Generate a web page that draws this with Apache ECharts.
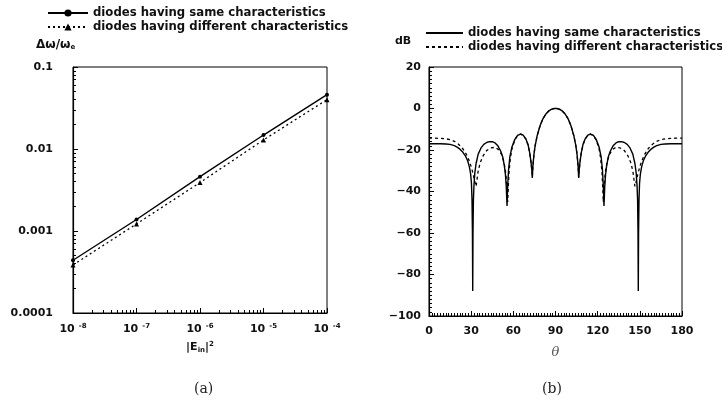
<!DOCTYPE html>
<html><head><meta charset="utf-8">
<script src="https://cdn.jsdelivr.net/npm/echarts@6/dist/echarts.min.js"></script>
<style>html,body{margin:0;padding:0;background:#fff}#c{width:722px;height:413px}</style>
</head><body><div id="c"></div>
<script>
// ---- Panel (a) data ----
const fieldA = [1e-8, 1e-7, 1e-6, 1e-5, 1e-4];
const sameA = [0.00044, 0.00138, 0.0046, 0.0148, 0.046];
const diffA = [0.000385, 0.00122, 0.0039, 0.0129, 0.040];
const yTicksA = {'-4':'0.0001','-3':'0.001','-2':'0.01','-1':'0.1'};
const xTickExpA = {'-8':'-8','-7':'-7','-6':'-6','-5':'-5','-4':'-4'};

// ---- Panel (b) data: [theta, dB] ----
const sameB = [[0,-17],[4,-17],[8,-17],[12,-17.1],[15,-17.3],[18,-17.9],[20,-18.6],[22,-19.6],[24,-21],[26,-23],[27.5,-25.2],[28.7,-28],[29.6,-31.5],[30.2,-36],[30.6,-44],[30.9,-60],[31.1,-88],[31.3,-60],[31.6,-44],[32,-37],[32.6,-31],[33.5,-26.5],[35,-22],[37,-19],[39,-17.3],[41,-16.4],[43,-16],[45,-16],[47,-16.6],[49,-18],[51,-20.5],[52.5,-23.5],[53.6,-27.5],[54.4,-32],[55,-38],[55.5,-47],[56,-37],[56.6,-29.5],[57.5,-23.5],[59,-18.5],[61,-15],[63,-13],[65,-12.3],[67,-12.8],[69,-14.8],[70.5,-17.5],[71.7,-21.5],[72.6,-26],[73.2,-30],[73.5,-33.5],[73.9,-28],[74.6,-22.5],[75.5,-18],[77,-13],[79,-8.3],[81,-5],[83,-2.8],[85,-1.3],[87,-0.4],[89,0],[90,0],
[91,0],[93,-0.4],[95,-1.3],[97,-2.8],[99,-5],[101,-8.3],[103,-13],[104.5,-18],[105.4,-22.5],[106.1,-28],[106.5,-33.5],[106.8,-30],[107.4,-26],[108.3,-21.5],[109.5,-17.5],[111,-14.8],[113,-12.8],[115,-12.3],[117,-13],[119,-15],[121,-18.5],[122.5,-23.5],[123.4,-29.5],[124,-37],[124.5,-47],[125,-38],[125.6,-32],[126.4,-27.5],[127.5,-23.5],[129,-20.5],[131,-18],[133,-16.6],[135,-16],[137,-16],[139,-16.4],[141,-17.3],[143,-19],[145,-22],[146.5,-26.5],[147.4,-31],[148,-37],[148.4,-44],[148.7,-60],[148.9,-88],[149.1,-60],[149.4,-44],[149.8,-36],[150.4,-31.5],[151.3,-28],[152.5,-25.2],[154,-23],[156,-21],[158,-19.6],[160,-18.6],[162,-17.9],[165,-17.3],[168,-17.1],[172,-17],[176,-17],[180,-17]];
const diffB = [[0,-14.3],[4,-14.3],[8,-14.4],[12,-14.6],[15,-15],[18,-15.8],[21,-17.2],[24,-19.3],[26.5,-22],[28.5,-25],[30,-28],[31.2,-31],[32.2,-34],[33,-36.5],[33.5,-37.5],[34,-35],[35,-30],[36.5,-26],[38.5,-22.8],[41,-20.3],[44,-19],[47,-18.7],[49.5,-19.8],[51.5,-22],[53,-25],[54.2,-29],[55,-34],[55.6,-40],[56,-45],[56.4,-38],[57,-30],[58,-23.5],[59,-19.5],[61,-15.2],[63,-13.1],[65,-12.4],[67,-12.9],[69,-14.9],[70.5,-17.6],[71.7,-21.6],[72.6,-26],[73.2,-30],[73.5,-33],[73.9,-28],[74.6,-22.5],[75.5,-18],[77,-13],[79,-8.3],[81,-5],[83,-2.8],[85,-1.3],[87,-0.4],[89,0],[90,0],
[91,0],[93,-0.4],[95,-1.3],[97,-2.8],[99,-5],[101,-8.3],[103,-13],[104.5,-18],[105.4,-22.5],[106.1,-28],[106.5,-33],[106.8,-30],[107.4,-26],[108.3,-21.6],[109.5,-17.6],[111,-14.9],[113,-12.9],[115,-12.4],[117,-13.1],[119,-15.2],[121,-19.5],[122,-23.5],[123,-30],[123.6,-38],[124,-45],[124.4,-40],[125,-34],[125.8,-29],[127,-25],[128.5,-22],[130.5,-19.8],[133,-18.7],[136,-19],[139,-20.3],[141.5,-22.8],[143.5,-26],[145,-30],[146,-35],[146.5,-37.5],[147,-36.5],[147.8,-34],[148.8,-31],[150,-28],[151.5,-25],[153.5,-22],[156,-19.3],[159,-17.2],[162,-15.8],[165,-15],[168,-14.6],[172,-14.4],[176,-14.3],[180,-14.3]];

const seriesNames = {
  aSame: 'diodes having same characteristics',
  aDiff: 'diodes having different characteristics',
  bSame: 'diodes having same characteristics',
  bDiff: 'diodes having different characteristics'
};

const F = 'DejaVu Sans';
const lab = {fontFamily: F, fontWeight: 'bold', fontSize: 11, color: '#111'};
const legText = Object.assign({}, lab, {fontSize: 11.7});

const chart = echarts.init(document.getElementById('c'), null, {renderer: 'canvas'});
chart.setOption({
  animation: false,
  backgroundColor: '#fff',
  title: [
    {text: '(a)', left: 189, top: 377, textStyle: {fontFamily: 'DejaVu Serif', fontWeight: 'normal', fontSize: 14, color: '#222'}},
    {text: '(b)', left: 537, top: 377, textStyle: {fontFamily: 'DejaVu Serif', fontWeight: 'normal', fontSize: 14, color: '#222'}}
  ],
  legend: [
    {data: ['aSame', 'aDiff'], left: 47, top: 7, padding: 0, orient: 'vertical', itemGap: 2, itemWidth: 40, itemHeight: 9,
     formatter: n => seriesNames[n], textStyle: legText},
    {data: ['bSame', 'bDiff'], left: 425, top: 27, padding: 0, orient: 'vertical', itemGap: 2, itemWidth: 37, itemHeight: 9,
     itemStyle: {opacity: 0}, formatter: n => seriesNames[n], textStyle: legText}
  ],
  grid: [
    {left: 73, top: 67, width: 254, height: 246, show: true, borderColor: '#000', borderWidth: 1},
    {left: 429, top: 67, width: 253, height: 249, show: true, borderColor: '#000', borderWidth: 1}
  ],
  xAxis: [
    {type: 'log', gridIndex: 0, min: 1e-8, max: 1e-4, logBase: 10,
     axisLine: {onZero: false, lineStyle: {color: '#000', width: 1.2}},
     axisTick: {inside: true, length: 5, lineStyle: {color: '#000'}},
     minorTick: {show: true, splitNumber: 9, length: 3, lineStyle: {color: '#000'}},
     splitLine: {show: false},
     axisLabel: {margin: 10, formatter: v => { const e = String(Math.round(Math.log10(v))); return '{b|10}{s|' + (xTickExpA[e] || e) + '}'; },
       rich: {b: Object.assign({}, lab), s: Object.assign({}, lab, {fontSize: 7, verticalAlign: 'top', padding: [0, 0, 6, 4]})}},
     name: '|E{s|in}|{p|2}', nameLocation: 'middle', nameGap: 28,
     nameTextStyle: Object.assign({}, lab, {rich: {s: Object.assign({}, lab, {fontSize: 7, padding: [6, 0, 0, 0]}), p: Object.assign({}, lab, {fontSize: 7, padding: [0, 0, 6, 0]})}})},
    {type: 'value', gridIndex: 1, min: 0, max: 180, interval: 30,
     axisLine: {onZero: false, lineStyle: {color: '#000', width: 1.2}},
     axisTick: {inside: true, length: 5, lineStyle: {color: '#000'}},
     minorTick: {show: true, splitNumber: 15, length: 3, lineStyle: {color: '#000'}},
     splitLine: {show: false},
     axisLabel: Object.assign({margin: 10}, lab),
     name: 'θ', nameLocation: 'middle', nameGap: 30,
     nameTextStyle: {fontFamily: 'DejaVu Serif', fontStyle: 'italic', fontSize: 13, color: '#555'}}
  ],
  yAxis: [
    {type: 'log', gridIndex: 0, min: 1e-4, max: 0.1, logBase: 10,
     axisLine: {onZero: false, lineStyle: {color: '#000', width: 1.2}},
     axisTick: {inside: true, length: 5, lineStyle: {color: '#000'}},
     minorTick: {show: true, splitNumber: 9, length: 3, lineStyle: {color: '#000'}},
     splitLine: {show: false},
     axisLabel: Object.assign({margin: 20, formatter: v => yTicksA[String(Math.round(Math.log10(v)))]}, lab),
     name: 'Δω/ω{s|e}', nameLocation: 'end', nameGap: 16,
     nameTextStyle: Object.assign({}, lab, {fontSize: 12, align: 'left', padding: [0, 0, 0, -37], rich: {s: Object.assign({}, lab, {fontSize: 7, padding: [6, 0, 0, 0]})}})},
    {type: 'value', gridIndex: 1, min: -100, max: 20, interval: 20,
     axisLine: {onZero: false, lineStyle: {color: '#000', width: 1.2}},
     axisTick: {inside: true, length: 5, lineStyle: {color: '#000'}},
     minorTick: {show: true, splitNumber: 10, length: 3, lineStyle: {color: '#000'}},
     splitLine: {show: false},
     axisLabel: Object.assign({margin: 8, formatter: v => (v < 0 ? '−' + (-v) : String(v))}, lab),
     name: 'dB', nameLocation: 'end', nameGap: 20,
     nameTextStyle: Object.assign({}, lab, {align: 'left', padding: [0, 0, 0, -34]})}
  ],
  series: [
    {name: 'aSame', type: 'line', xAxisIndex: 0, yAxisIndex: 0,
     data: fieldA.map((x, i) => [x, sameA[i]]), symbol: 'circle', symbolSize: 4,
     itemStyle: {color: '#000'}, lineStyle: {color: '#000', width: 1.4}},
    {name: 'aDiff', type: 'line', xAxisIndex: 0, yAxisIndex: 0,
     data: fieldA.map((x, i) => [x, diffA[i]]), symbol: 'triangle', symbolSize: 5,
     itemStyle: {color: '#000'}, lineStyle: {color: '#000', width: 1.3, type: [2, 3]}},
    {name: 'bSame', type: 'line', xAxisIndex: 1, yAxisIndex: 1, data: sameB, showSymbol: false, symbol: 'none',
     itemStyle: {color: '#000'}, lineStyle: {color: '#000', width: 1.4}},
    {name: 'bDiff', type: 'line', xAxisIndex: 1, yAxisIndex: 1, data: diffB, showSymbol: false, symbol: 'none',
     itemStyle: {color: '#000'}, lineStyle: {color: '#000', width: 1.3, type: [3, 3]}}
  ]
});
</script></body></html>
